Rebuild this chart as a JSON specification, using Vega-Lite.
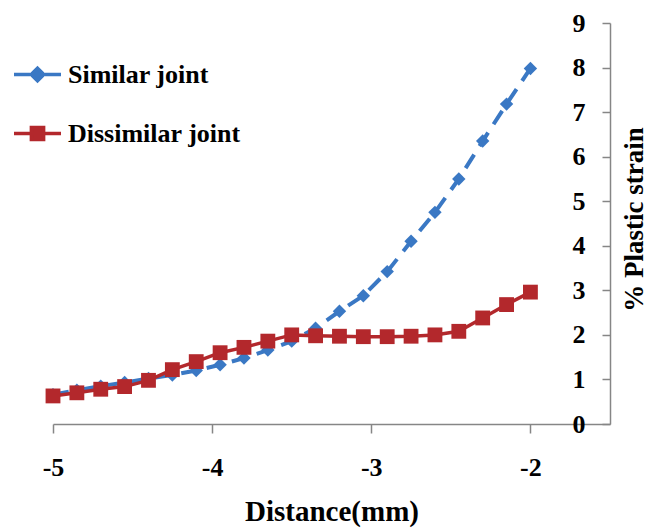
{
  "$schema": "https://vega.github.io/schema/vega-lite/v6.json",
  "width": 557,
  "height": 401,
  "autosize": {"type": "none"},
  "padding": {"left": 53, "top": 23, "right": 37, "bottom": 105},
  "background": "white",
  "config": {"view": {"stroke": null}, "font": "Liberation Serif"},
  "data": {
    "values": [
      {"series": "Similar joint", "distance": -5.0, "strain": 0.66},
      {"series": "Similar joint", "distance": -4.85, "strain": 0.76},
      {"series": "Similar joint", "distance": -4.7, "strain": 0.85},
      {"series": "Similar joint", "distance": -4.55, "strain": 0.93},
      {"series": "Similar joint", "distance": -4.4, "strain": 1.02},
      {"series": "Similar joint", "distance": -4.25, "strain": 1.1},
      {"series": "Similar joint", "distance": -4.1, "strain": 1.2},
      {"series": "Similar joint", "distance": -3.95, "strain": 1.33},
      {"series": "Similar joint", "distance": -3.8, "strain": 1.48},
      {"series": "Similar joint", "distance": -3.65, "strain": 1.66},
      {"series": "Similar joint", "distance": -3.5, "strain": 1.86},
      {"series": "Similar joint", "distance": -3.35, "strain": 2.15},
      {"series": "Similar joint", "distance": -3.2, "strain": 2.53},
      {"series": "Similar joint", "distance": -3.05, "strain": 2.88},
      {"series": "Similar joint", "distance": -2.9, "strain": 3.42},
      {"series": "Similar joint", "distance": -2.75, "strain": 4.1},
      {"series": "Similar joint", "distance": -2.6, "strain": 4.75},
      {"series": "Similar joint", "distance": -2.45, "strain": 5.5},
      {"series": "Similar joint", "distance": -2.3, "strain": 6.35},
      {"series": "Similar joint", "distance": -2.15, "strain": 7.18},
      {"series": "Similar joint", "distance": -2.0, "strain": 7.98},
      {"series": "Dissimilar joint", "distance": -5.0, "strain": 0.63},
      {"series": "Dissimilar joint", "distance": -4.85, "strain": 0.7},
      {"series": "Dissimilar joint", "distance": -4.7, "strain": 0.78},
      {"series": "Dissimilar joint", "distance": -4.55, "strain": 0.84},
      {"series": "Dissimilar joint", "distance": -4.4, "strain": 0.98},
      {"series": "Dissimilar joint", "distance": -4.25, "strain": 1.22},
      {"series": "Dissimilar joint", "distance": -4.1, "strain": 1.4},
      {"series": "Dissimilar joint", "distance": -3.95, "strain": 1.6},
      {"series": "Dissimilar joint", "distance": -3.8, "strain": 1.72},
      {"series": "Dissimilar joint", "distance": -3.65, "strain": 1.86},
      {"series": "Dissimilar joint", "distance": -3.5, "strain": 2.0},
      {"series": "Dissimilar joint", "distance": -3.35, "strain": 1.98},
      {"series": "Dissimilar joint", "distance": -3.2, "strain": 1.97},
      {"series": "Dissimilar joint", "distance": -3.05, "strain": 1.96},
      {"series": "Dissimilar joint", "distance": -2.9, "strain": 1.96},
      {"series": "Dissimilar joint", "distance": -2.75, "strain": 1.97},
      {"series": "Dissimilar joint", "distance": -2.6, "strain": 2.0},
      {"series": "Dissimilar joint", "distance": -2.45, "strain": 2.08},
      {"series": "Dissimilar joint", "distance": -2.3, "strain": 2.38},
      {"series": "Dissimilar joint", "distance": -2.15, "strain": 2.68},
      {"series": "Dissimilar joint", "distance": -2.0, "strain": 2.96}
    ]
  },
  "encoding": {
    "x": {
      "field": "distance",
      "type": "quantitative",
      "scale": {"domain": [-5, -1.5], "nice": false, "zero": false},
      "axis": {
        "values": [-5, -4, -3, -2],
        "labelExpr": "'' + datum.value",
        "labelFlush": false,
        "title": "Distance(mm)",
        "grid": false,
        "domainColor": "#868686",
        "domainWidth": 1.5,
        "tickColor": "#868686",
        "tickWidth": 1.5,
        "tickSize": 9,
        "labelFont": "Liberation Serif",
        "labelFontWeight": "bold",
        "labelFontSize": 26,
        "labelColor": "black",
        "labelPadding": 21,
        "titleFont": "Liberation Serif",
        "titleFontWeight": "bold",
        "titleFontSize": 29,
        "titleColor": "black",
        "titleBaseline": "alphabetic",
        "titleY": 96
      }
    },
    "y": {
      "field": "strain",
      "type": "quantitative",
      "scale": {"domain": [0, 9], "nice": false},
      "axis": {
        "orient": "left",
        "offset": -557,
        "values": [0, 1, 2, 3, 4, 5, 6, 7, 8, 9],
        "title": "% Plastic strain",
        "grid": false,
        "domainColor": "#868686",
        "domainWidth": 1.5,
        "tickColor": "#868686",
        "tickWidth": 1.5,
        "tickSize": 8,
        "labelPadding": 17,
        "labelFont": "Liberation Serif",
        "labelFontWeight": "bold",
        "labelFontSize": 26,
        "labelColor": "black",
        "titleFont": "Liberation Serif",
        "titleFontWeight": "bold",
        "titleFontSize": 27,
        "titleColor": "black",
        "titleAngle": 270,
        "titleX": 24,
        "titleY": 196,
        "titleAlign": "center",
        "titleBaseline": "middle"
      }
    },
    "color": {
      "field": "series",
      "type": "nominal",
      "scale": {"domain": ["Similar joint", "Dissimilar joint"], "range": ["#3A78C4", "#B3282C"]},
      "legend": {
        "orient": "none",
        "legendX": -41,
        "legendY": 26,
        "title": null,
        "padding": 0,
        "symbolSize": 2209,
        "labelFont": "Liberation Serif",
        "labelFontWeight": "bold",
        "labelFontSize": 26,
        "labelColor": "black",
        "labelOffset": 5,
        "rowPadding": 20,
        "labelLimit": 400,
        "encode": {
          "symbols": {
            "update": {
              "shape": {"signal": "datum.value === 'Similar joint' ? 'M-1,0H-0.32M0.32,0H1M0,-0.27L0.27,0L0,0.27L-0.27,0Z' : 'M-1,0H1M-0.26,-0.26H0.26V0.26H-0.26Z'"},
              "fill": {"signal": "datum.value === 'Similar joint' ? '#3A78C4' : '#B3282C'"},
              "stroke": {"signal": "datum.value === 'Similar joint' ? '#3A78C4' : '#B3282C'"},
              "strokeWidth": {"value": 3.5},
              "opacity": {"value": 1},
              "fillOpacity": {"value": 1},
              "strokeOpacity": {"value": 1}
            }
          }
        }
      }
    }
  },
  "layer": [
    {
      "transform": [{"filter": "datum.series === 'Similar joint'"}],
      "mark": {"type": "line", "strokeWidth": 4, "strokeDash": [16, 10]}
    },
    {
      "transform": [{"filter": "datum.series === 'Similar joint'"}],
      "mark": {"type": "point", "shape": "diamond", "filled": true, "size": 180, "opacity": 1}
    },
    {
      "transform": [{"filter": "datum.series === 'Dissimilar joint'"}],
      "mark": {"type": "line", "strokeWidth": 3.5}
    },
    {
      "transform": [{"filter": "datum.series === 'Dissimilar joint'"}],
      "mark": {"type": "point", "shape": "square", "filled": true, "size": 220, "opacity": 1}
    }
  ]
}
